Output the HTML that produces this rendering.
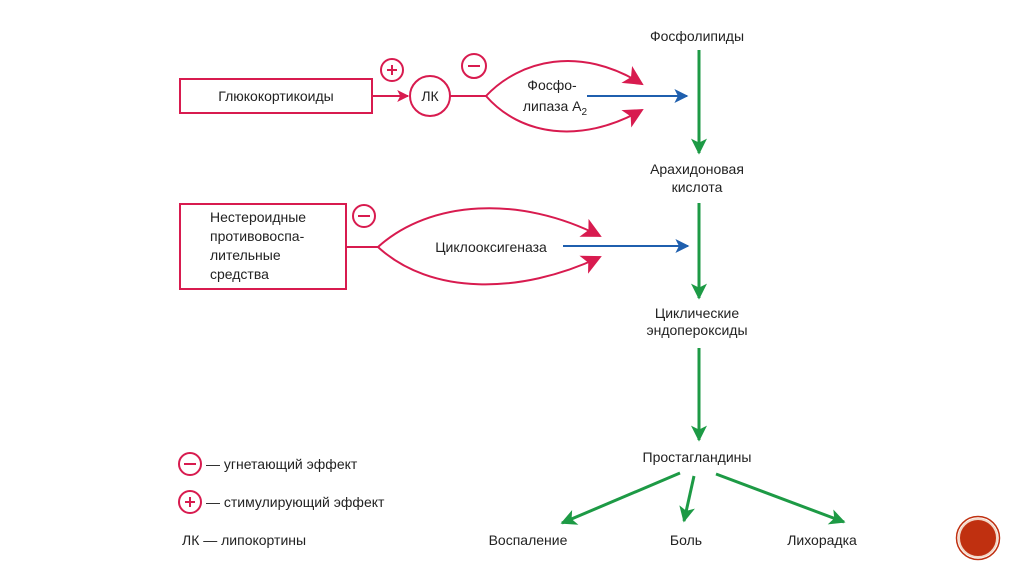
<!DOCTYPE html>
<html><head><meta charset="utf-8"><style>
html,body{margin:0;padding:0;background:#fff;}
svg{display:block;}
text{font-family:"Liberation Sans",Arial,sans-serif;font-size:14px;fill:#222;}
</style></head><body>
<svg width="1024" height="574" viewBox="0 0 1024 574" xmlns="http://www.w3.org/2000/svg">
<defs>
<marker id="rb" viewBox="0 0 10 10" refX="9" refY="5" markerWidth="22" markerHeight="20" markerUnits="userSpaceOnUse" orient="auto"><path d="M0,0L10,5L0,10L2.5,5z" fill="#d81b4f"/></marker>
<marker id="r" viewBox="0 0 10 10" refX="9" refY="5" markerWidth="12" markerHeight="12" markerUnits="userSpaceOnUse" orient="auto"><path d="M0,0L10,5L0,10L2.5,5z" fill="#d81b4f"/></marker>
<marker id="b" viewBox="0 0 10 10" refX="9" refY="5" markerWidth="20" markerHeight="14" markerUnits="userSpaceOnUse" orient="auto"><path d="M0,0L10,5L0,10L2.5,5z" fill="#1f5fae"/></marker>
<marker id="g" viewBox="0 0 10 10" refX="9" refY="5" markerWidth="22" markerHeight="16" markerUnits="userSpaceOnUse" orient="auto"><path d="M0,0L10,5L0,10L2.5,5z" fill="#1d9a45"/></marker>
</defs>
<g stroke="#d81b4f" stroke-width="2" fill="none">
<rect x="180" y="79" width="192" height="34"/>
<line x1="372" y1="96" x2="408" y2="96" marker-end="url(#r)"/>
<circle cx="430" cy="96" r="20"/>
<circle cx="392" cy="70" r="11"/>
<circle cx="474" cy="66" r="12"/>
<line x1="450" y1="96" x2="486" y2="96"/>
<path d="M486,96 C520,60 580,45 642,84" marker-end="url(#rb)"/>
<path d="M486,96 C520,135 580,145 642,110" marker-end="url(#rb)"/>
<rect x="180" y="204" width="166" height="85"/>
<circle cx="364" cy="216" r="11"/>
<line x1="346" y1="247" x2="378" y2="247"/>
<path d="M378,247 C430,200 520,195 600,236" marker-end="url(#rb)"/>
<path d="M378,247 C430,295 520,295 600,257" marker-end="url(#rb)"/>
<circle cx="190" cy="464" r="11"/>
<circle cx="190" cy="502" r="11"/>
</g>
<g stroke="#d81b4f" stroke-width="2">
<line x1="392" y1="65" x2="392" y2="75"/><line x1="387" y1="70" x2="397" y2="70"/>
<line x1="468" y1="66" x2="480" y2="66"/>
<line x1="358" y1="216" x2="370" y2="216"/>
<line x1="184" y1="464" x2="196" y2="464"/>
<line x1="190" y1="497" x2="190" y2="507"/><line x1="185" y1="502" x2="195" y2="502"/>
</g>
<g stroke="#1f5fae" stroke-width="2">
<line x1="587" y1="96" x2="687" y2="96" marker-end="url(#b)"/>
<line x1="563" y1="246" x2="688" y2="246" marker-end="url(#b)"/>
</g>
<g stroke="#1d9a45" stroke-width="3">
<line x1="699" y1="50" x2="699" y2="153" marker-end="url(#g)"/>
<line x1="699" y1="203" x2="699" y2="298" marker-end="url(#g)"/>
<line x1="699" y1="348" x2="699" y2="440" marker-end="url(#g)"/>
<line x1="680" y1="473" x2="562" y2="523" marker-end="url(#g)"/>
<line x1="694" y1="476" x2="684" y2="521" marker-end="url(#g)"/>
<line x1="716" y1="474" x2="844" y2="522" marker-end="url(#g)"/>
</g>
<text x="276" y="101" text-anchor="middle">Глюкокортикоиды</text>
<text x="430" y="101" text-anchor="middle">ЛК</text>
<text x="552" y="90" text-anchor="middle">Фосфо-</text>
<text x="555" y="111" text-anchor="middle">липаза А<tspan font-size="10" dy="4">2</tspan></text>
<text x="210" y="222">Нестероидные</text>
<text x="210" y="241">противовоспа-</text>
<text x="210" y="260">лительные</text>
<text x="210" y="279">средства</text>
<text x="491" y="252" text-anchor="middle">Циклооксигеназа</text>
<text x="697" y="41" text-anchor="middle">Фосфолипиды</text>
<text x="697" y="174" text-anchor="middle">Арахидоновая</text>
<text x="697" y="192" text-anchor="middle">кислота</text>
<text x="697" y="318" text-anchor="middle">Циклические</text>
<text x="697" y="335" text-anchor="middle">эндопероксиды</text>
<text x="697" y="462" text-anchor="middle">Простагландины</text>
<text x="528" y="545" text-anchor="middle">Воспаление</text>
<text x="686" y="545" text-anchor="middle">Боль</text>
<text x="822" y="545" text-anchor="middle">Лихорадка</text>
<text x="206" y="469">— угнетающий эффект</text>
<text x="206" y="507">— стимулирующий эффект</text>
<text x="182" y="545">ЛК — липокортины</text>
<circle cx="978" cy="538" r="19" fill="#c03010" stroke="#f3d8c8" stroke-width="2"/>
<circle cx="978" cy="538" r="21.5" fill="none" stroke="#c03010" stroke-width="1.5"/>
</svg>
</body></html>
